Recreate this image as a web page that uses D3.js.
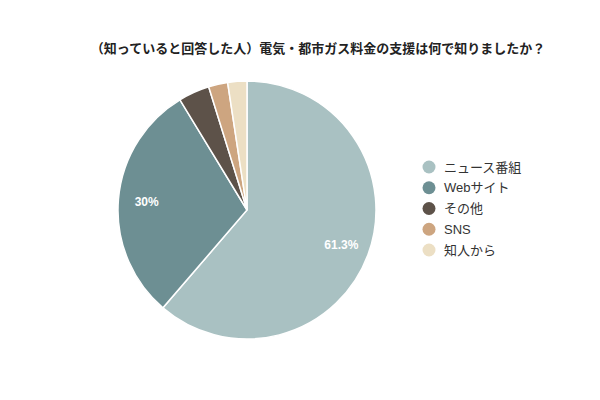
<!DOCTYPE html>
<html>
<head>
<meta charset="utf-8">
<title>pie</title>
<script src="https://cdn.jsdelivr.net/npm/d3@7"></script>
<style>
  body { margin: 0; background: #fff; }
  text { font-family: "Liberation Sans", "Noto Sans CJK JP", sans-serif; }
</style>
</head>
<body>
<div id="chart"></div>
<script>
  var labels = ["ニュース番組", "Webサイト", "その他", "SNS", "知人から"];
  var values = [61.3, 30, 3.9, 2.4, 2.4];
  var colors = ["#a9c1c2", "#6d8f93", "#5d5249", "#cda580", "#ecdfc4"];
  var title = "（知っていると回答した人）電気・都市ガス料金の支援は何で知りましたか？";

  var wid = 600, high = 400;
  var cx = 247, cy = 210, r = 129;

  var svg = d3.select("#chart")
    .append("svg")
    .attr("width", wid)
    .attr("height", high);

  svg.append("text")
    .text(title)
    .attr("x", 318)
    .attr("y", 53)
    .attr("text-anchor", "middle")
    .attr("font-size", 13)
    .attr("font-weight", "bold")
    .attr("fill", "#222");

  var pie = d3.pie().sort(null).value(function(d) { return d; });
  var arc = d3.arc().innerRadius(0).outerRadius(r);
  var arcs = pie(values);

  var g = svg.append("g")
    .attr("transform", "translate(" + cx + "," + cy + ")");

  g.selectAll("path")
    .data(arcs)
    .enter()
    .append("path")
    .attr("d", arc)
    .attr("fill", function(d, i) { return colors[i]; })
    .attr("stroke", "#fff")
    .attr("stroke-width", 1.5);

  // only the big slices get a label
  var labelArc = d3.arc().innerRadius(r * 0.78).outerRadius(r * 0.78);
  g.selectAll(".lbl")
    .data(arcs.filter(function(d) { return d.data >= 10; }))
    .enter()
    .append("text")
    .attr("class", "lbl")
    .attr("transform", function(d) { return "translate(" + labelArc.centroid(d) + ")"; })
    .attr("text-anchor", "middle")
    .attr("dy", "0.35em")
    .attr("font-size", 12)
    .attr("font-weight", "bold")
    .attr("fill", "#fff")
    .text(function(d) { return d.data + "%"; });

  var ly = d3.scalePoint().domain(labels).range([167, 250]);

  var leg = svg.selectAll(".leg")
    .data(labels)
    .enter()
    .append("g")
    .attr("class", "leg")
    .attr("transform", function(d) { return "translate(429," + ly(d) + ")"; });

  leg.append("circle")
    .attr("r", 6.5)
    .attr("fill", function(d, i) { return colors[i]; });

  leg.append("text")
    .attr("x", 15)
    .attr("dy", "0.35em")
    .attr("font-size", 13)
    .attr("fill", "#333")
    .text(function(d) { return d; });
</script>
</body>
</html>
